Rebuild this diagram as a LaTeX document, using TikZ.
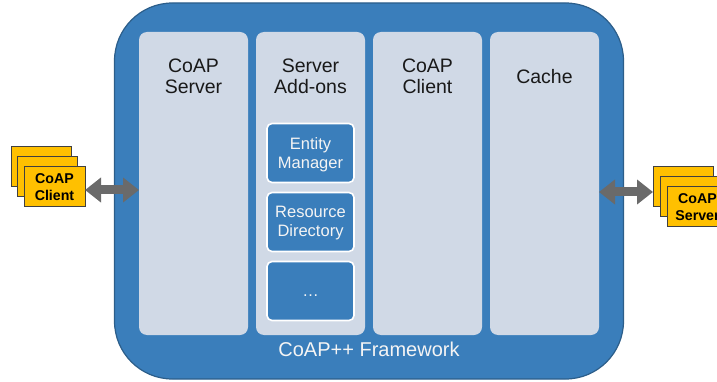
\documentclass[tikz,border=0pt]{standalone}
\usepackage{fontspec}
\setmainfont{Liberation Sans}
\usetikzlibrary{arrows.meta}

\definecolor{frameblue}{HTML}{3A7EBB}
\definecolor{frameedge}{HTML}{2C5E8A}
\definecolor{colfill}{HTML}{D0D9E6}
\definecolor{boxorange}{HTML}{FFC000}
\definecolor{boxedge}{HTML}{404040}
\definecolor{arrowgray}{HTML}{6A6A6A}
\definecolor{softwhite}{HTML}{F4F4F4}

\tikzset{
  box/.style={anchor=north west, inner sep=0pt, outer sep=0pt},
  framebox/.style={box, fill=frameblue, draw=frameedge, line width=1.2pt,
    rounded corners=58pt},
  column/.style={box, fill=colfill, rounded corners=8pt},
  addon/.style={box, fill=frameblue, draw=white, line width=1.6pt,
    rounded corners=5pt, minimum width=87pt, minimum height=59pt},
  addontext/.style={text=softwhite, align=center,
    font=\fontsize{16.5}{19}\selectfont},
  coltitle/.style={text=black!90, align=center,
    font=\fontsize{19.5}{21}\selectfont},
  peer/.style={box, fill=boxorange, draw=boxedge, line width=0.8pt,
    minimum width=60pt, minimum height=40pt},
  peertext/.style={align=center, font=\bfseries\fontsize{14.2}{17}\selectfont},
  link/.style={draw=arrowgray, line width=9pt,
    {Triangle[length=16pt,width=24pt]}-{Triangle[length=16pt,width=24pt]}},
}

\begin{document}
\begin{tikzpicture}[x=1pt,y=-1pt]
  \useasboundingbox (0,0) rectangle (717,382);

  % framework body
  \node[framebox, minimum width=509pt, minimum height=376pt] (fw) at (114.5,3) {};
  \node[text=softwhite, font=\fontsize{20}{22}\selectfont] (fwlbl) at (369,349) {CoAP++ Framework};

  % the four columns
  \node[column, minimum width=109pt, minimum height=303pt] (srv) at (139,32) {};
  \node[column, minimum width=109pt, minimum height=303pt] (add) at (256,32) {};
  \node[column, minimum width=109pt, minimum height=303pt] (cli) at (373,32) {};
  \node[column, minimum width=109pt, minimum height=303pt] (cache) at (490,32) {};

  \node[coltitle] (srvlbl) at ([yshift=-44pt]srv.north) {CoAP\\Server};
  \node[coltitle] (addlbl) at ([yshift=-44pt]add.north) {Server\\Add-ons};
  \node[coltitle] (clilbl) at ([yshift=-44pt]cli.north) {CoAP\\Client};
  \node[coltitle] (cachelbl) at ([yshift=-45pt]cache.north) {Cache};

  % server add-ons
  \node[addon] (em) at (267,123.5) {};
  \node[addon] (rd) at (267,192.5) {};
  \node[addon] (more) at (267,261.5) {};
  \node[addontext] (emlbl) at ([yshift=-1.5pt]em.center) {Entity\\Manager};
  \node[addontext] (rdlbl) at ([yshift=-1.5pt]rd.center) {Resource\\Directory};
  \node[addontext] (morelbl) at ([yshift=-1.5pt]more.center) {\vphantom{Ag}\dots};

  % external client stack
  \node[peer] (c1) at (11,146) {};
  \node[peer] (c2) at (17.5,156) {};
  \node[peer, minimum width=61pt] (c3) at (24,166) {};
  \node[peertext] (c3lbl) at ([yshift=-1.5pt]c3.center) {CoAP\\Client};

  % external server stack
  \node[peer] (s1) at (653,166) {};
  \node[peer] (s2) at (660,176) {};
  \node[peer] (s3) at (667,186) {};
  \node[peertext] (s3lbl) at ([xshift=0.5pt,yshift=-1.5pt]s3.center) {CoAP\\Server};

  % links
  \coordinate (la) at (c3.east |- 0,190);
  \coordinate (lb) at (srv.west |- 0,190);
  \coordinate (ra) at (cache.east |- 0,192);
  \coordinate (rb) at (s1.west |- 0,192);
  \draw[link] (la) -- (lb);
  \draw[link] (ra) -- (rb);
\end{tikzpicture}
\end{document}
